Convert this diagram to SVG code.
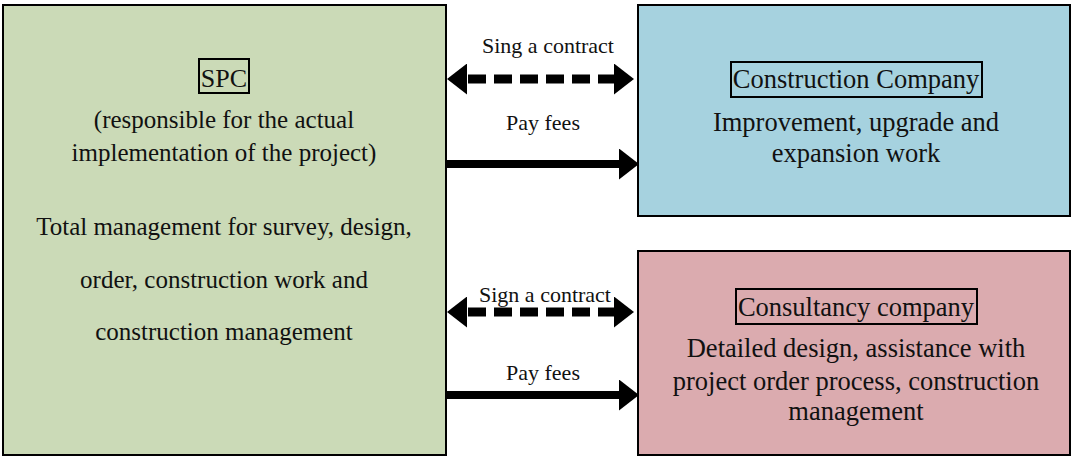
<svg xmlns="http://www.w3.org/2000/svg" width="1073" height="457" viewBox="0 0 1073 457">
  <style>
    .box { stroke: #000; stroke-width: 2; }
    .lbl { fill: none; stroke: #000; stroke-width: 2; }
    .t { font-family: "Liberation Serif", "Times New Roman", serif; fill: #111; text-anchor: middle; }
    .l25 { font-size: 25px; }
    .r26 { font-size: 26.5px; }
    .a22 { font-size: 22px; }
    .dash { stroke: #000; stroke-width: 9; stroke-dasharray: 18 8; fill: none; }
    .solid { stroke: #000; stroke-width: 8; fill: none; }
  </style>
  <defs>
    <marker id="head" markerUnits="userSpaceOnUse" markerWidth="20" markerHeight="31" refX="0" refY="15.5" orient="auto-start-reverse" viewBox="0 0 20 31">
      <path d="M0,0 L20,15.5 L0,31 Z" fill="#000"/>
    </marker>
  </defs>

  <g id="spc">
    <rect class="box" x="3" y="5" width="443" height="450" fill="#cbdab7"/>
    <rect class="lbl" x="199" y="59" width="50" height="34"/>
    <text class="t" x="224" y="87" font-size="26">SPC</text>
    <text class="t l25" x="224" y="128">(responsible for the actual</text>
    <text class="t l25" x="224" y="161">implementation of the project)</text>
    <text class="t l25" x="224" y="235">Total management for survey, design,</text>
    <text class="t l25" x="224" y="288">order, construction work and</text>
    <text class="t l25" x="224" y="340">construction management</text>
  </g>

  <g id="construction">
    <rect class="box" x="638" y="5" width="432" height="211" fill="#a6d2df"/>
    <rect class="lbl" x="731" y="62" width="251" height="35"/>
    <text class="t r26" x="856" y="88">Construction Company</text>
    <text class="t r26" x="856" y="131">Improvement, upgrade and</text>
    <text class="t r26" x="856" y="162">expansion work</text>
  </g>

  <g id="consultancy">
    <rect class="box" x="638" y="251" width="432" height="204" fill="#dbabaf"/>
    <rect class="lbl" x="736" y="289" width="241" height="35"/>
    <text class="t r26" x="856" y="316">Consultancy company</text>
    <text class="t r26" x="856" y="357">Detailed design, assistance with</text>
    <text class="t r26" x="856" y="390">project order process, construction</text>
    <text class="t r26" x="856" y="420">management</text>
  </g>

  <g id="connectors">
    <line class="dash" x1="467" y1="79" x2="614" y2="79" stroke-dashoffset="-1" marker-start="url(#head)" marker-end="url(#head)"/>
    <text class="t a22" x="548" y="53">Sing a contract</text>
    <line class="solid" x1="446" y1="164" x2="619" y2="164" marker-end="url(#head)"/>
    <text class="t a22" x="543" y="130">Pay fees</text>

    <line class="dash" x1="467" y1="312" x2="614" y2="312" stroke-dashoffset="-1" marker-start="url(#head)" marker-end="url(#head)"/>
    <text class="t a22" x="545" y="302">Sign a contract</text>
    <line class="solid" x1="446" y1="395" x2="619" y2="395" marker-end="url(#head)"/>
    <text class="t a22" x="543" y="380">Pay fees</text>
  </g>
</svg>
